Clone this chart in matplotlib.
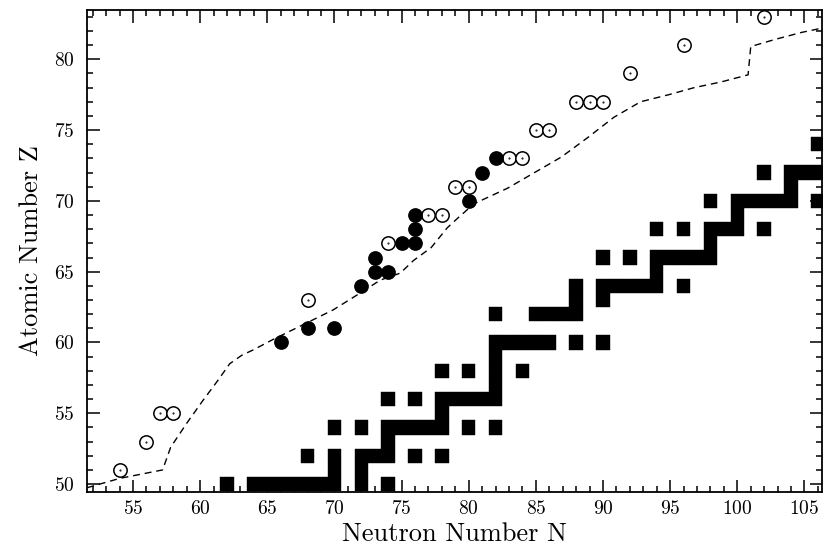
import matplotlib
matplotlib.use("Agg")
import matplotlib.pyplot as plt
from matplotlib.ticker import MultipleLocator

plt.rcParams["font.family"] = "serif"
plt.rcParams["font.serif"] = ["cmr10", "DejaVu Serif"]
plt.rcParams["mathtext.fontset"] = "cm"
plt.rcParams["axes.formatter.use_mathtext"] = True

# stable nuclei, one entry per (N, Z) cell
stable_n = [62, 64, 65, 66, 67, 68, 69, 70, 72, 74,
            70, 72,
            68, 70, 72, 73, 74, 76, 78,
            74,
            70, 72, 74, 75, 76, 77, 78, 80, 82,
            78,
            74, 76, 78, 79, 80, 81, 82,
            82,
            78, 80, 82, 84,
            82,
            82, 83, 84, 85, 86, 88, 90,
            82, 85, 86, 87, 88,
            88, 90,
            88, 90, 91, 92, 93, 94, 96,
            94,
            90, 92, 94, 95, 96, 97, 98,
            98,
            94, 96, 98, 99, 100, 102,
            100,
            98, 100, 101, 102, 103, 104, 106,
            104,
            102, 104, 105, 106,
            106]
stable_z = [50, 50, 50, 50, 50, 50, 50, 50, 50, 50,
            51, 51,
            52, 52, 52, 52, 52, 52, 52,
            53,
            54, 54, 54, 54, 54, 54, 54, 54, 54,
            55,
            56, 56, 56, 56, 56, 56, 56,
            57,
            58, 58, 58, 58,
            59,
            60, 60, 60, 60, 60, 60, 60,
            62, 62, 62, 62, 62,
            63, 63,
            64, 64, 64, 64, 64, 64, 64,
            65,
            66, 66, 66, 66, 66, 66, 66,
            67,
            68, 68, 68, 68, 68, 68,
            69,
            70, 70, 70, 70, 70, 70, 70,
            71,
            72, 72, 72, 72,
            74]

# observed nuclei: open and filled symbols
open_n = [54, 56, 57, 58, 68, 74, 77, 78, 79, 80, 83, 84, 85, 86, 88, 89, 90, 92, 96, 102]
open_z = [51, 53, 55, 55, 63, 67, 69, 69, 71, 71, 73, 73, 75, 75, 77, 77, 77, 79, 81, 83]
filled_n = [66, 68, 70, 72, 73, 74, 73, 75, 76, 76, 76, 80, 81, 82]
filled_z = [60, 61, 61, 64, 65, 65, 66, 67, 67, 68, 69, 70, 72, 73]

# calculated proton drip line
drip_n = [51.6, 54.0, 57.2, 57.8, 59.0, 60.2, 61.3, 62.2, 63.1, 64.0, 65.4, 66.9,
          68.4, 69.9, 72.1, 73.4, 74.9, 75.9, 77.2, 78.4, 79.2, 80.4, 82.9, 84.9,
          86.9, 88.9, 90.8, 92.8, 94.9, 96.8, 98.8, 100.8, 101.0, 102.8, 104.8, 106.3]
drip_z = [49.75, 50.4, 51.0, 52.6, 54.3, 55.9, 57.3, 58.5, 59.1, 59.5, 60.2, 60.9,
          61.6, 62.3, 63.6, 64.4, 64.9, 65.8, 66.7, 68.1, 68.8, 69.8, 70.9, 72.0,
          73.1, 74.5, 75.9, 77.0, 77.5, 78.0, 78.4, 78.9, 80.9, 81.4, 81.9, 82.2]

fig = plt.figure(figsize=(8.23, 5.49), dpi=100)
ax = fig.add_axes([0.1057, 0.1038, 0.893, 0.878])

ax.bar(stable_n, [1] * len(stable_n), width=1.0, bottom=[z - 0.5 for z in stable_z],
       color="black", edgecolor="black", linewidth=0.3, clip_on=False, zorder=2)

ax.plot(drip_n, drip_z, color="black", lw=1.0, ls=(0, (5, 3.5)), zorder=3)

ax.plot(open_n, open_z, "o", ms=9.6, mfc="white", mec="black", mew=1.1,
        ls="none", zorder=4)
ax.plot(open_n, open_z, ".", ms=1.0, color="black", ls="none", zorder=5)
ax.plot(filled_n, filled_z, "o", ms=9.6, mfc="black", mec="black",
        ls="none", zorder=4)

ax.set_xlim(51.57, 106.3)
ax.set_ylim(49.44, 83.48)

ax.xaxis.set_major_locator(MultipleLocator(5))
ax.xaxis.set_minor_locator(MultipleLocator(1))
ax.yaxis.set_major_locator(MultipleLocator(5))
ax.yaxis.set_minor_locator(MultipleLocator(1))
ax.tick_params(which="both", direction="in", top=True, right=True,
               labelsize=14, width=1.1)
ax.tick_params(axis="x", which="major", length=9, pad=6)
ax.tick_params(axis="y", which="major", length=9, pad=9)
ax.tick_params(which="minor", length=4)
for s in ax.spines.values():
    s.set_linewidth(1.3)

ax.set_xlabel("Neutron Number N", fontsize=19, labelpad=3)
ax.set_ylabel("Atomic Number Z", fontsize=19, labelpad=8)

fig.savefig("out.png", dpi=100)
